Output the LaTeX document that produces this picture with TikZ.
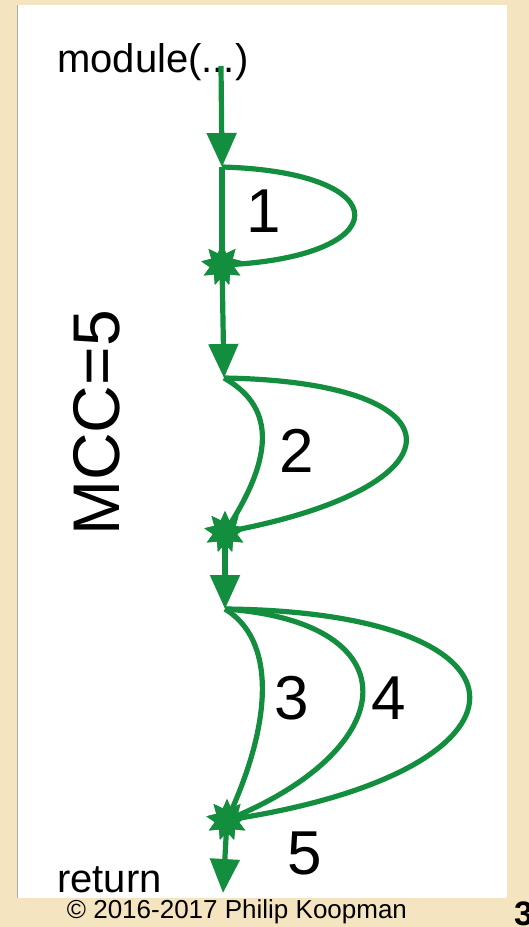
\documentclass[tikz,border=0pt]{standalone}
\usepackage{fontspec}
\setmainfont{Liberation Sans}
\usetikzlibrary{arrows.meta,shapes.geometric}
\definecolor{flow}{RGB}{18,142,62}
\definecolor{paper}{RGB}{245,228,192}
\definecolor{edge}{RGB}{170,170,170}
\tikzset{
  flowline/.style={draw=flow,line width=5.2pt},
  flowarr/.style={flowline,-{Triangle[length=34pt,width=29pt]}},
  mergept/.style={star,star points=9,star point ratio=1.7,minimum size=42pt,
    inner sep=0pt,fill=flow,draw=none},
  num/.style={font=\fontsize{62}{62}\selectfont,inner sep=0pt},
  lbl/.style={font=\fontsize{40}{40}\selectfont,inner sep=0pt,anchor=base west},
}
\begin{document}
\begin{tikzpicture}[x=1pt,y=-1pt]
  % page and slide panel
  \fill[paper] (0,0) rectangle (529,927);
  \useasboundingbox (0,0) rectangle (529,927);
  \fill[white] (17,5) rectangle (507,898);
  \draw[edge,line width=0.8pt] (17,5) -- (17,898);

  % entry and exit labels
  \node[lbl] (mod) at (57,72) {module(...)};
  \node[lbl] (ret) at (57,892) {return};
  \coordinate (start) at (221,66);
  \coordinate (stop) at (223,893);

  % decision and merge points
  \coordinate (n1) at (222,167);
  \node[mergept] (j1) at (222,265) {};
  \coordinate (n2) at (224,378);
  \node[mergept] (j2) at (225,532) {};
  \coordinate (n3) at (225,609);
  \node[mergept] (j3) at (227,820) {};

  % main spine
  \draw[flowarr] (start) -- (n1);
  \draw[flowline] (n1) -- (j1.center);
  \draw[flowarr] (j1.center) -- (n2);
  \draw[flowarr] (j2.center) -- (n3);
  \draw[flowarr] (j3.center) -- (stop);

  % branch 1
  \draw[flowline] (n1) .. controls (400,172) and (398,258) .. (j1.center);
  % branch 2
  \draw[flowline] (n2) .. controls (272,405) and (278,452) .. (j2.center);
  \draw[flowline] (n2) .. controls (468,382) and (466,488) .. (j2.center);
  % branch 3
  \draw[flowline] (n3) .. controls (276,640) and (273,722) .. (j3.center);
  \draw[flowline] (n3) .. controls (412,622) and (405,748) .. (j3.center);
  \draw[flowline] (n3) .. controls (552,612) and (550,772) .. (j3.center);

  % redraw merge points on top
  \node[mergept] at (j1) {};
  \node[mergept] at (j2) {};
  \node[mergept] at (j3) {};

  % region numbers
  \node[num] (r1) at (264,211) {1};
  \node[num] (r2) at (297,451) {2};
  \node[num] (r3) at (292,698) {3};
  \node[num] (r4) at (389,698) {4};
  \node[num] (r5) at (305,853) {5};

  % complexity
  \node[font=\fontsize{66}{66}\selectfont,rotate=90,inner sep=0pt] (mcc) at (97,423) {MCC=5};

  % footer
  \node[font=\fontsize{26}{26}\selectfont,inner sep=0pt] (copy) at (237,912) {© 2016-2017 Philip Koopman};
  \node[font=\fontsize{34}{34}\selectfont\bfseries,inner sep=0pt,anchor=west] (pg) at (514,914) {3};
\end{tikzpicture}
\end{document}
